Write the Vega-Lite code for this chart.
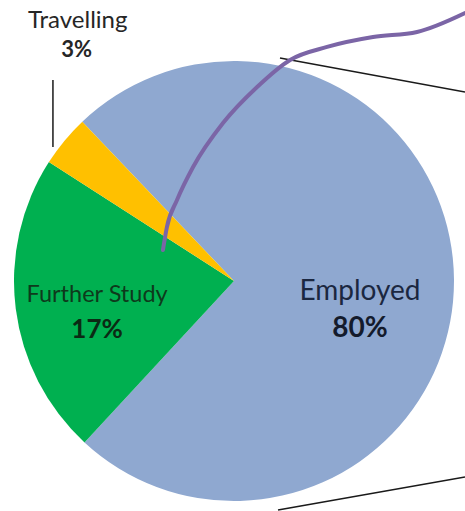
{
  "$schema": "https://vega.github.io/schema/vega-lite/v6.json",
  "width": 462,
  "height": 460,
  "padding": {"left": 3, "top": 51, "right": 0, "bottom": 0},
  "autosize": {"type": "none"},
  "background": "white",
  "config": {"view": {"stroke": null}},
  "datasets": {
    "slices": [
      {"cat": "Employed", "share": 74.0, "pct": "80%"},
      {"cat": "Further Study", "share": 22.2, "pct": "17%"},
      {"cat": "Travelling", "share": 3.8, "pct": "3%"}
    ],
    "paths": [
      {"series": "curve", "i": 1, "px": 1.05, "py": 1.218},
      {"series": "curve", "i": 2, "px": 0.832, "py": 1.132},
      {"series": "curve", "i": 3, "px": 0.632, "py": 1.109},
      {"series": "curve", "i": 4, "px": 0.423, "py": 1.064},
      {"series": "curve", "i": 5, "px": 0.255, "py": 1.005},
      {"series": "curve", "i": 6, "px": 0.105, "py": 0.882},
      {"series": "curve", "i": 7, "px": -0.05, "py": 0.718},
      {"series": "curve", "i": 8, "px": -0.186, "py": 0.518},
      {"series": "curve", "i": 9, "px": -0.259, "py": 0.368},
      {"series": "curve", "i": 10, "px": -0.305, "py": 0.245},
      {"series": "curve", "i": 11, "px": -0.323, "py": 0.141},
      {"series": "upper", "i": 1, "px": 0.209, "py": 1.014},
      {"series": "upper", "i": 2, "px": 1.05, "py": 0.859},
      {"series": "lower", "i": 1, "px": 0.2, "py": -1.041},
      {"series": "lower", "i": 2, "px": 1.05, "py": -0.891},
      {"series": "leader", "i": 1, "px": -0.823, "py": 0.914},
      {"series": "leader", "i": 2, "px": -0.823, "py": 0.609}
    ]
  },
  "layer": [
    {
      "data": {"name": "slices"},
      "mark": {"type": "arc", "radius": 220},
      "encoding": {
        "theta": {"field": "share", "type": "quantitative", "stack": true, "scale": {"range": [-0.76096, 5.52223]}},
        "order": {"field": "share", "sort": "descending"},
        "color": {"field": "cat", "type": "nominal", "legend": null,
          "scale": {"domain": ["Employed", "Further Study", "Travelling"], "range": ["#8FA8D0", "#00B050", "#FFC000"]}}
      }
    },
    {
      "data": {"name": "paths"},
      "transform": [{"filter": "datum.series !== 'curve'"}],
      "mark": {"type": "line", "color": "#1a1a1a", "strokeWidth": 1.5},
      "encoding": {
        "x": {"field": "px", "type": "quantitative", "scale": {"domain": [-1.05, 1.05], "nice": false, "zero": false}, "axis": null},
        "y": {"field": "py", "type": "quantitative", "scale": {"domain": [-1.0455, 1.0455], "nice": false, "zero": false}, "axis": null},
        "detail": {"field": "series"},
        "order": {"field": "i"}
      }
    },
    {
      "data": {"name": "paths"},
      "transform": [{"filter": "datum.series === 'curve'"}],
      "mark": {"type": "line", "color": "#7B65A6", "strokeWidth": 4, "interpolate": "monotone", "strokeCap": "round"},
      "encoding": {
        "x": {"field": "px", "type": "quantitative", "axis": null},
        "y": {"field": "py", "type": "quantitative", "axis": null},
        "order": {"field": "i"}
      }
    },
    {
      "data": {"name": "slices"},
      "mark": {"type": "text", "radius": 126, "dy": 20, "baseline": "alphabetic", "align": "center", "font": "Lato", "fontSize": 28, "color": "#1B2740"},
      "encoding": {
        "theta": {"field": "share", "type": "quantitative", "stack": true},
        "order": {"field": "share", "sort": "descending"},
        "text": {"condition": {"test": "datum.cat === 'Employed'", "field": "cat"}, "value": ""}
      }
    },
    {
      "data": {"name": "slices"},
      "mark": {"type": "text", "radius": 126, "dy": 57, "baseline": "alphabetic", "align": "center", "font": "Lato", "fontSize": 28, "fontWeight": "bold", "color": "#141B2C"},
      "encoding": {
        "theta": {"field": "share", "type": "quantitative", "stack": true},
        "order": {"field": "share", "sort": "descending"},
        "text": {"condition": {"test": "datum.cat === 'Employed'", "field": "pct"}, "value": ""}
      }
    },
    {
      "data": {"name": "slices"},
      "mark": {"type": "text", "radius": 138, "dy": 4, "baseline": "alphabetic", "align": "center", "font": "Lato", "fontSize": 23.5, "color": "#0E3A1C"},
      "encoding": {
        "theta": {"field": "share", "type": "quantitative", "stack": true},
        "order": {"field": "share", "sort": "descending"},
        "text": {"condition": {"test": "datum.cat === 'Further Study'", "field": "cat"}, "value": ""}
      }
    },
    {
      "data": {"name": "slices"},
      "mark": {"type": "text", "radius": 138, "dy": 40, "baseline": "alphabetic", "align": "center", "font": "Lato", "fontSize": 26, "fontWeight": "bold", "color": "#0B2A14"},
      "encoding": {
        "theta": {"field": "share", "type": "quantitative", "stack": true},
        "order": {"field": "share", "sort": "descending"},
        "text": {"condition": {"test": "datum.cat === 'Further Study'", "field": "pct"}, "value": ""}
      }
    },
    {
      "data": {"name": "slices"},
      "mark": {"type": "text", "radius": 300, "dx": 75, "dy": -62, "baseline": "alphabetic", "align": "center", "font": "Lato", "fontSize": 24, "color": "#262626"},
      "encoding": {
        "theta": {"field": "share", "type": "quantitative", "stack": true},
        "order": {"field": "share", "sort": "descending"},
        "text": {"condition": {"test": "datum.cat === 'Travelling'", "field": "cat"}, "value": ""}
      }
    },
    {
      "data": {"name": "slices"},
      "mark": {"type": "text", "radius": 300, "dx": 74, "dy": -33, "baseline": "alphabetic", "align": "center", "font": "Lato", "fontSize": 22, "fontWeight": "bold", "color": "#262626"},
      "encoding": {
        "theta": {"field": "share", "type": "quantitative", "stack": true},
        "order": {"field": "share", "sort": "descending"},
        "text": {"condition": {"test": "datum.cat === 'Travelling'", "field": "pct"}, "value": ""}
      }
    }
  ]
}
